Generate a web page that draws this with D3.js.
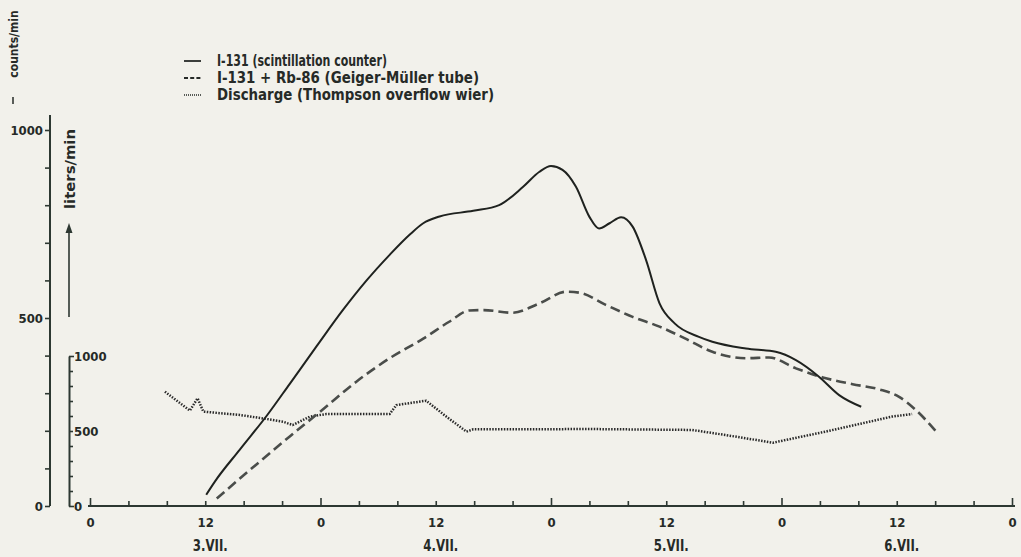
<!DOCTYPE html>
<html><head><meta charset="utf-8">
<script src="https://cdn.jsdelivr.net/npm/d3@7"></script>
<style>html,body{margin:0;padding:0;background:#f2f1eb;} svg{display:block;}</style>
</head><body><svg id="c" width="1021" height="557"></svg>
<script>
// ---- data (hours since 0:00 on 3.VII.) ----
const solidHours  = [12.1, 13.0, 15.6, 18.4, 20.8, 23.6, 26.3, 28.8, 31.2, 33.3, 34.7, 36.4, 39.9, 42.6, 45.1, 46.8, 48.0, 49.2, 50.6, 52.0, 53.0, 54.1, 55.3, 56.5, 57.9, 59.3, 60.9, 63.4, 64.8, 68.3, 71.4, 73.5, 75.9, 78.0, 80.3];
const solidCounts = [30, 65, 150, 240, 325, 425, 520, 600, 668, 722, 752, 770, 785, 800, 849, 889, 904, 894, 849, 769, 738, 752, 768, 743, 654, 539, 485, 450, 437, 419, 410, 388, 344, 295, 264];

const dashHours  = [13.2, 17.3, 20.8, 24.3, 27.7, 31.2, 34.7, 37.4, 39.5, 41.0, 44.0, 46.8, 49.6, 51.0, 53.7, 56.5, 59.3, 62.0, 64.8, 68.3, 70.7, 73.5, 76.3, 79.4, 82.2, 84.2, 86.0, 88.1];
const dashCounts = [20, 110, 185, 258, 330, 393, 445, 490, 520, 521, 514, 539, 570, 567, 535, 503, 477, 445, 410, 393, 395, 366, 342, 324, 310, 291, 255, 198];

const dischargeHours  = [7.8, 10.4, 11.2, 11.8, 15.6, 18.0, 20.1, 21.1, 22.9, 24.6, 31.2, 31.9, 35.0, 37.1, 39.2, 39.9, 40.6, 52.3, 62.7, 66.2, 71.1, 76.6, 83.5, 85.6];
const dischargeLiters = [762, 636, 718, 629, 607, 584, 562, 540, 596, 613, 613, 673, 702, 596, 496, 511, 511, 513, 507, 473, 422, 496, 596, 613];

const hourTicks = d3.range(0, 97, 4);
const dayLabels = ["3.VII.", "4.VII.", "5.VII.", "6.VII."];
const countTicks = d3.range(0, 1001, 100);
const countLabels = [0, 500, 1000];
const literTicks = d3.range(0, 1001, 100);
const literLabels = [0, 500, 1000];
const legendLabels = ["I-131 (scintillation counter)", "I-131 + Rb-86 (Geiger-Müller  tube)", "Discharge (Thompson overflow wier)"];

// ---- drawing ----
const W = 1021, H = 557;
const ink = "#262a27", axisInk = "#2d3832";
const font = "'DejaVu Sans Condensed','DejaVu Sans',sans-serif";
const svg = d3.select("#c");
svg.append("rect").attr("width", W).attr("height", H).attr("fill", "#f2f1eb");

const x = d3.scaleLinear().domain([0, 96]).range([90, 1012]);
const yC = d3.scaleLinear().domain([0, 1000]).range([506, 130]);
const yD = d3.scaleLinear().domain([0, 1000]).range([506, 356]);

function styleAxis(g, size) {
  g.selectAll("path.domain").attr("stroke", axisInk).attr("stroke-width", 2);
  g.selectAll(".tick line").attr("stroke", axisInk).attr("stroke-width", 1.6);
  g.selectAll("text").attr("fill", ink).attr("font-family", font).attr("font-weight", "bold").attr("font-size", size);
}

// main count axis
const gC = svg.append("g").attr("transform", "translate(50,0)")
  .call(d3.axisLeft(yC).tickValues(countTicks).tickSize(5).tickSizeOuter(0).tickPadding(2)
    .tickFormat(d => countLabels.includes(d) ? d : ""));
styleAxis(gC, 13);
gC.select("path.domain").remove();
gC.append("line").attr("x1", 0).attr("x2", 0).attr("y1", 115).attr("y2", yC(0)).attr("stroke", axisInk).attr("stroke-width", 2);

// discharge axis
const gD = svg.append("g").attr("transform", "translate(69,0)")
  .call(d3.axisRight(yD).tickValues(literTicks).tickSize(4).tickSizeOuter(0).tickPadding(1)
    .tickFormat(d => literLabels.includes(d) ? d : ""));
styleAxis(gD, 13);
gD.selectAll(".tick line").attr("x2", d => (d === 0 || d === 1000) ? 5 : 4);

// x axis
const gX = svg.append("g").attr("transform", "translate(0,506)")
  .call(d3.axisBottom(x).tickValues(hourTicks).tickSize(-5).tickSizeOuter(0).tickPadding(12)
    .tickFormat(d => d % 24 === 0 ? "0" : (d % 12 === 0 ? "12" : "")));
styleAxis(gX, 13);
gX.selectAll(".tick line").attr("y2", d => d % 24 === 0 ? -8 : -5);
gX.select("path.domain").attr("d", `M88,0H1015`);

gX.selectAll(".day").data(dayLabels).join("text")
  .attr("class", "day")
  .attr("x", (d, i) => x(12 + 24 * i) + 5).attr("y", 45)
  .attr("text-anchor", "middle")
  .attr("font-family", font).attr("font-weight", "bold").attr("font-size", 16)
  .attr("fill", ink)
  .attr("textLength", 35).attr("lengthAdjust", "spacingAndGlyphs")
  .text(d => d);

// axis titles
svg.append("text").attr("transform", "translate(18,44) rotate(-90)")
  .attr("text-anchor", "middle").attr("font-family", font).attr("font-weight", "bold")
  .attr("font-size", 12).attr("fill", ink).text("counts/min");
svg.append("line").attr("x1", 13).attr("x2", 13).attr("y1", 97).attr("y2", 104)
  .attr("stroke", ink).attr("stroke-width", 1.5);

svg.append("text").attr("transform", "translate(75,169) rotate(-90)")
  .attr("text-anchor", "middle").attr("font-family", font).attr("font-weight", "bold")
  .attr("font-size", 14).attr("fill", ink)
  .attr("textLength", 80).attr("lengthAdjust", "spacingAndGlyphs").text("liters/min");
svg.append("line").attr("x1", 69).attr("x2", 69).attr("y1", 317).attr("y2", 232)
  .attr("stroke", axisInk).attr("stroke-width", 1.6);
svg.append("path").attr("d", "M69,223L65.5,233L72.5,233Z").attr("fill", axisInk);

// series
const lineC = d3.line().x(d => x(d[0])).y(d => yC(d[1])).curve(d3.curveMonotoneX);
const lineD = d3.line().x(d => x(d[0])).y(d => yD(d[1])).curve(d3.curveLinear);

svg.append("path").datum(d3.zip(dischargeHours, dischargeLiters))
  .attr("d", lineD).attr("fill", "none").attr("stroke", "#2a2a2a")
  .attr("stroke-width", 2.5).attr("stroke-dasharray", "1.5,1.4");

svg.append("path").datum(d3.zip(dashHours, dashCounts))
  .attr("d", lineC).attr("fill", "none").attr("stroke", "#4a4d4a")
  .attr("stroke-width", 2.6).attr("stroke-dasharray", "10,5");

svg.append("path").datum(d3.zip(solidHours, solidCounts))
  .attr("d", lineC).attr("fill", "none").attr("stroke", "#1f221f")
  .attr("stroke-width", 2);

// legend
const legY = [66, 83, 100];
const legW = [170, 262, 277];
const legStyles = [
  {dash: null, w: 1.8},
  {dash: "4,2.2", w: 1.8},
  {dash: "1,1", w: 1.6}
];
legendLabels.forEach((t, i) => {
  svg.append("line").attr("x1", 184).attr("x2", 201).attr("y1", legY[i] - 5).attr("y2", legY[i] - 5)
    .attr("stroke", ink).attr("stroke-width", legStyles[i].w)
    .attr("stroke-dasharray", legStyles[i].dash);
  svg.append("text").attr("x", 217).attr("y", legY[i])
    .attr("font-family", font).attr("font-weight", "bold").attr("font-size", 15)
    .attr("fill", ink).attr("textLength", legW[i]).attr("lengthAdjust", "spacingAndGlyphs")
    .text(t);
});
</script>
</body></html>
